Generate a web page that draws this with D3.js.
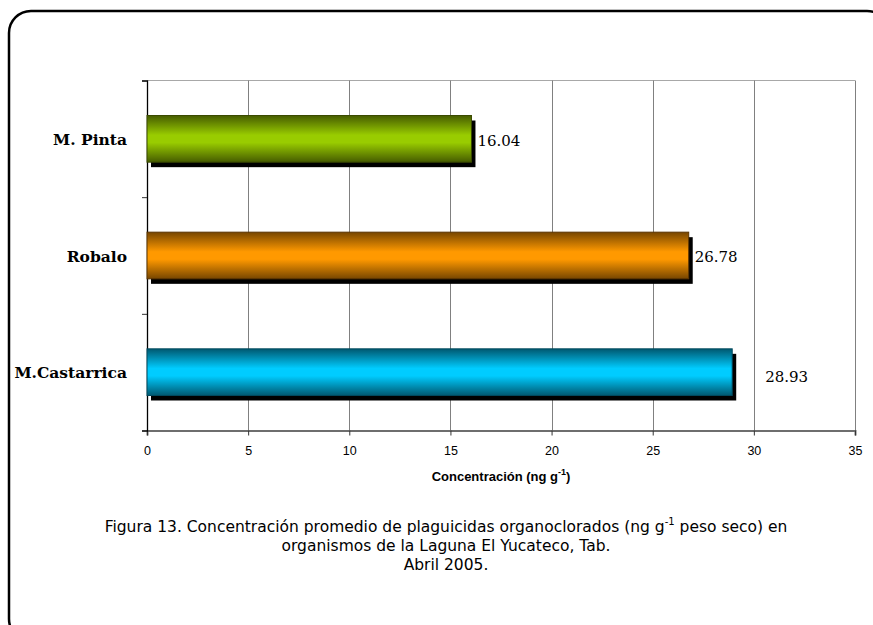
<!DOCTYPE html>
<html>
<head>
<meta charset="utf-8">
<script src="https://cdn.jsdelivr.net/npm/d3@7"></script>
<style>
  html, body { margin: 0; padding: 0; background: #fff; }
  svg { display: block; }
</style>
</head>
<body>
<svg id="chart" width="873" height="625"></svg>
<script>
// Data
const categories = ["M. Pinta", "Robalo", "M.Castarrica"];
const values = [16.04, 26.78, 28.93];
const xTicks = [0, 5, 10, 15, 20, 25, 30, 35];

// Bar colours: bright centre and dark edge of each gradient
const brightColors = ["#99CC00", "#FF9900", "#00CCFF"];
const darkColors = ["#465C00", "#774600", "#005870"];
const edgeColors = ["#3A4A00", "#5A3400", "#00485C"];

// Value label nudges (px) relative to the bar end
const labelDx = [6, 6, 33];
const labelDy = [7, 6, 10];

const svg = d3.select("#chart");

const plot = { left: 147, right: 855, top: 80.5, bottom: 430.5 };

const x = d3.scaleLinear().domain([0, 35]).range([plot.left, plot.right]);
const y = d3.scaleBand().domain(categories).range([plot.top, plot.bottom])
  .paddingInner(0.6).paddingOuter(0.3);

// Rounded frame
svg.append("rect")
  .attr("x", 9).attr("y", 11)
  .attr("width", 880).attr("height", 630)
  .attr("rx", 22).attr("ry", 22)
  .attr("fill", "none").attr("stroke", "#000").attr("stroke-width", 2.5);

// Gradients
const defs = svg.append("defs");
categories.forEach((c, i) => {
  const g = defs.append("linearGradient")
    .attr("id", "grad" + i)
    .attr("x1", 0).attr("y1", 0).attr("x2", 0).attr("y2", 1);
  g.append("stop").attr("offset", "0%").attr("stop-color", darkColors[i]);
  g.append("stop").attr("offset", "42%").attr("stop-color", brightColors[i]);
  g.append("stop").attr("offset", "58%").attr("stop-color", brightColors[i]);
  g.append("stop").attr("offset", "100%").attr("stop-color", darkColors[i]);
});

// Plot area top border
svg.append("line")
  .attr("x1", plot.left).attr("x2", plot.right)
  .attr("y1", plot.top).attr("y2", plot.top)
  .attr("stroke", "#a8a8a8").attr("stroke-width", 1);

// Vertical gridlines (the last one closes the plot area on the right)
svg.append("g").selectAll("line")
  .data(xTicks.filter(d => d > 0))
  .join("line")
  .attr("x1", d => Math.round(x(d)) + 0.5).attr("x2", d => Math.round(x(d)) + 0.5)
  .attr("y1", plot.top).attr("y2", plot.bottom)
  .attr("stroke", "#808080").attr("stroke-width", 1);

// Bottom axis
const xAxis = svg.append("g")
  .attr("transform", `translate(0,${plot.bottom})`)
  .call(d3.axisBottom(x).tickValues(xTicks).tickSize(5).tickPadding(11));
xAxis.select(".domain").attr("stroke", "#6e6e6e").attr("stroke-width", 2);
xAxis.selectAll(".tick line").attr("stroke", "#333");
xAxis.selectAll(".tick text")
  .attr("font-family", "'Liberation Sans', Arial, sans-serif")
  .attr("font-size", 12.5).attr("fill", "#000");

// Left axis: ticks at category boundaries
const yEdge = d3.scaleLinear().domain([0, categories.length]).range([plot.top, plot.bottom]);
const yAxis = svg.append("g")
  .attr("transform", `translate(${plot.left},0)`)
  .call(d3.axisLeft(yEdge).tickValues(d3.range(categories.length + 1)).tickSize(5).tickFormat(""));
yAxis.select(".domain").attr("stroke", "#000").attr("stroke-width", 1.3);
yAxis.selectAll(".tick line").attr("stroke", "#333");

// Shadows
svg.append("g").selectAll("rect")
  .data(values)
  .join("rect")
  .attr("x", x(0) + 4)
  .attr("y", (d, i) => y(categories[i]) + 5)
  .attr("width", d => x(d) - x(0))
  .attr("height", y.bandwidth())
  .attr("fill", "#000");

// Bars
svg.append("g").selectAll("rect")
  .data(values)
  .join("rect")
  .attr("x", x(0))
  .attr("y", (d, i) => y(categories[i]))
  .attr("width", d => x(d) - x(0))
  .attr("height", y.bandwidth())
  .attr("fill", (d, i) => `url(#grad${i})`)
  .attr("stroke", (d, i) => edgeColors[i])
  .attr("stroke-width", 1);

// Value labels
svg.append("g").selectAll("text")
  .data(values)
  .join("text")
  .attr("x", (d, i) => x(d) + labelDx[i])
  .attr("y", (d, i) => y(categories[i]) + y.bandwidth() / 2 + labelDy[i])
  .attr("font-family", "'DejaVu Serif', Georgia, serif")
  .attr("font-size", 15)
  .attr("fill", "#000")
  .text(d => d.toFixed(2));

// Category labels
svg.append("g").selectAll("text")
  .data(categories)
  .join("text")
  .attr("x", 127)
  .attr("y", d => y(d) + y.bandwidth() / 2 + 6)
  .attr("text-anchor", "end")
  .attr("font-family", "'DejaVu Serif', Georgia, serif")
  .attr("font-weight", "bold")
  .attr("font-size", 15.5)
  .attr("fill", "#000")
  .text(d => d);

// Axis title
const xt = svg.append("text")
  .attr("x", (plot.left + plot.right) / 2)
  .attr("y", 481)
  .attr("text-anchor", "middle")
  .attr("font-family", "'Liberation Sans', Arial, sans-serif")
  .attr("font-weight", "bold")
  .attr("font-size", 13)
  .attr("fill", "#000");
xt.append("tspan").text("Concentración (ng g");
xt.append("tspan").attr("dy", -6).attr("font-size", 9).text("-1");
xt.append("tspan").attr("dy", 6).text(")");

// Caption
const capX = 446;
const capFont = "'DejaVu Sans', Verdana, sans-serif";
const capSize = 15.5;
const c1 = svg.append("text")
  .attr("x", capX).attr("y", 532)
  .attr("text-anchor", "middle")
  .attr("font-family", capFont).attr("font-size", capSize).attr("fill", "#000");
c1.append("tspan").text("Figura 13. Concentración promedio de plaguicidas organoclorados (ng g");
c1.append("tspan").attr("dy", -7).attr("font-size", 10).text("-1");
c1.append("tspan").attr("dy", 7).text(" peso seco) en");

svg.append("text")
  .attr("x", capX).attr("y", 551)
  .attr("text-anchor", "middle")
  .attr("font-family", capFont).attr("font-size", capSize).attr("fill", "#000")
  .text("organismos de la Laguna El Yucateco, Tab.");

svg.append("text")
  .attr("x", capX).attr("y", 570)
  .attr("text-anchor", "middle")
  .attr("font-family", capFont).attr("font-size", capSize).attr("fill", "#000")
  .text("Abril 2005.");
</script>
</body>
</html>
